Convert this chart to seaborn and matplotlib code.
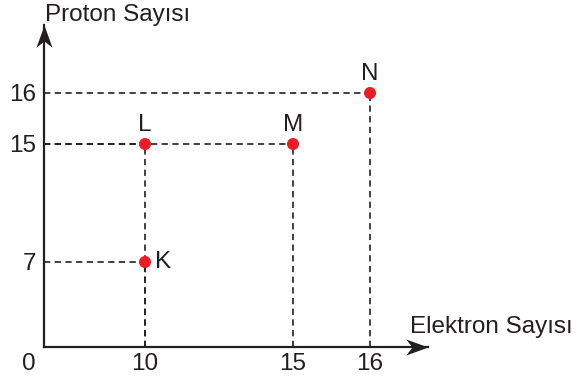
import numpy as np
import matplotlib
matplotlib.use('Agg')
import matplotlib.pyplot as plt
from matplotlib.path import Path
import seaborn as sns

# data
names = ['K', 'L', 'M', 'N']
elektron = [10, 10, 15, 16]
proton = [7, 15, 15, 16]

x_ticks = [10, 15, 16]
y_ticks = [7, 15, 16]

sns.set_style('white')
plt.rcParams['font.family'] = ['Liberation Sans', 'DejaVu Sans']
plt.rcParams['lines.scale_dashes'] = False

W, H = 583, 376
fig = plt.figure(figsize=(W / 100, H / 100), dpi=100)

# the drawing is schematic: tick spacing is not linear, so use a piecewise scale
x_pts = [-1, 0, 10, 15, 16, 17, 20]
x_pix = [33.5, 43.5, 145, 293, 370, 447, 678]
y_pts = [-1, 0, 7, 15, 16, 17, 20]
y_pix = [19, 29, 114, 232, 283, 334, 487]

def fx(v):
    return np.interp(v, x_pts, x_pix)

def fx_inv(p):
    return np.interp(p, x_pix, x_pts)

def fy(v):
    return np.interp(v, y_pts, y_pix)

def fy_inv(p):
    return np.interp(p, y_pix, y_pts)

left, right = 43.5, 428
bottom, top = 29, 351
ax = fig.add_axes([left / W, bottom / H, (right - left) / W, (top - bottom) / H])
ax.set_xscale('function', functions=(fx, fx_inv))
ax.set_yscale('function', functions=(fy, fy_inv))
ax.set_xlim(0, fx_inv(right))
ax.set_ylim(0, fy_inv(top))

dark = '#231f20'
red = '#ec1c24'
fs = 17.5

# dashed guide lines
ax.hlines(proton, 0, elektron, colors=dark, lw=1.2, ls=(0, (4.5, 3.2)), zorder=1)
ax.vlines(elektron, 0, proton, colors=dark, lw=1.2, ls=(0, (4.5, 3.2)), zorder=1)

sns.scatterplot(x=elektron, y=proton, color=red, s=75, edgecolor='none', zorder=3, ax=ax)

for n, xv, yv in zip(names, elektron, proton):
    if n == 'K':
        ax.annotate(n, (xv, yv), xytext=(7, 0), textcoords='offset points',
                    ha='left', va='center', fontsize=fs, color=dark)
    else:
        ax.annotate(n, (xv, yv), xytext=(0, 6), textcoords='offset points',
                    ha='center', va='bottom', fontsize=fs, color=dark)

# axes with stealth arrow heads
for s in ['top', 'right']:
    ax.spines[s].set_visible(False)
for s in ['left', 'bottom']:
    ax.spines[s].set_color(dark)
    ax.spines[s].set_linewidth(1.6)

stealth_x = Path([(0, 0), (-1, 0.36), (-0.72, 0), (-1, -0.36), (0, 0)],
                 [Path.MOVETO, Path.LINETO, Path.LINETO, Path.LINETO, Path.CLOSEPOLY])
stealth_y = Path([(0, 0), (0.36, -1), (0, -0.72), (-0.36, -1), (0, 0)],
                 [Path.MOVETO, Path.LINETO, Path.LINETO, Path.LINETO, Path.CLOSEPOLY])
ax.plot(1, 0, marker=stealth_x, ms=32, color=dark, mew=0,
        transform=ax.get_yaxis_transform(), clip_on=False)
ax.plot(0, 1, marker=stealth_y, ms=32, color=dark, mew=0,
        transform=ax.get_xaxis_transform(), clip_on=False)

ax.set_xticks(x_ticks)
ax.set_xticklabels([str(t) for t in x_ticks])
ax.set_yticks(y_ticks)
ax.set_yticklabels([str(t) for t in y_ticks])
ax.tick_params(axis='both', length=0, labelsize=fs, colors=dark)
ax.tick_params(axis='x', pad=4)
ax.tick_params(axis='y', pad=5)
ax.annotate('0', (0, 0), xycoords='axes fraction', xytext=(-6, -4), textcoords='offset points',
            ha='right', va='top', fontsize=fs, color=dark)

ax.text(0.003, 1.032, 'Proton Sayısı', transform=ax.transAxes, ha='left', va='center',
        fontsize=fs, color=dark)
fig.text(410 / W, 1 - 327 / H, 'Elektron Sayısı', ha='left', va='center',
         fontsize=fs, color=dark)

fig.savefig('out.png', dpi=100)
